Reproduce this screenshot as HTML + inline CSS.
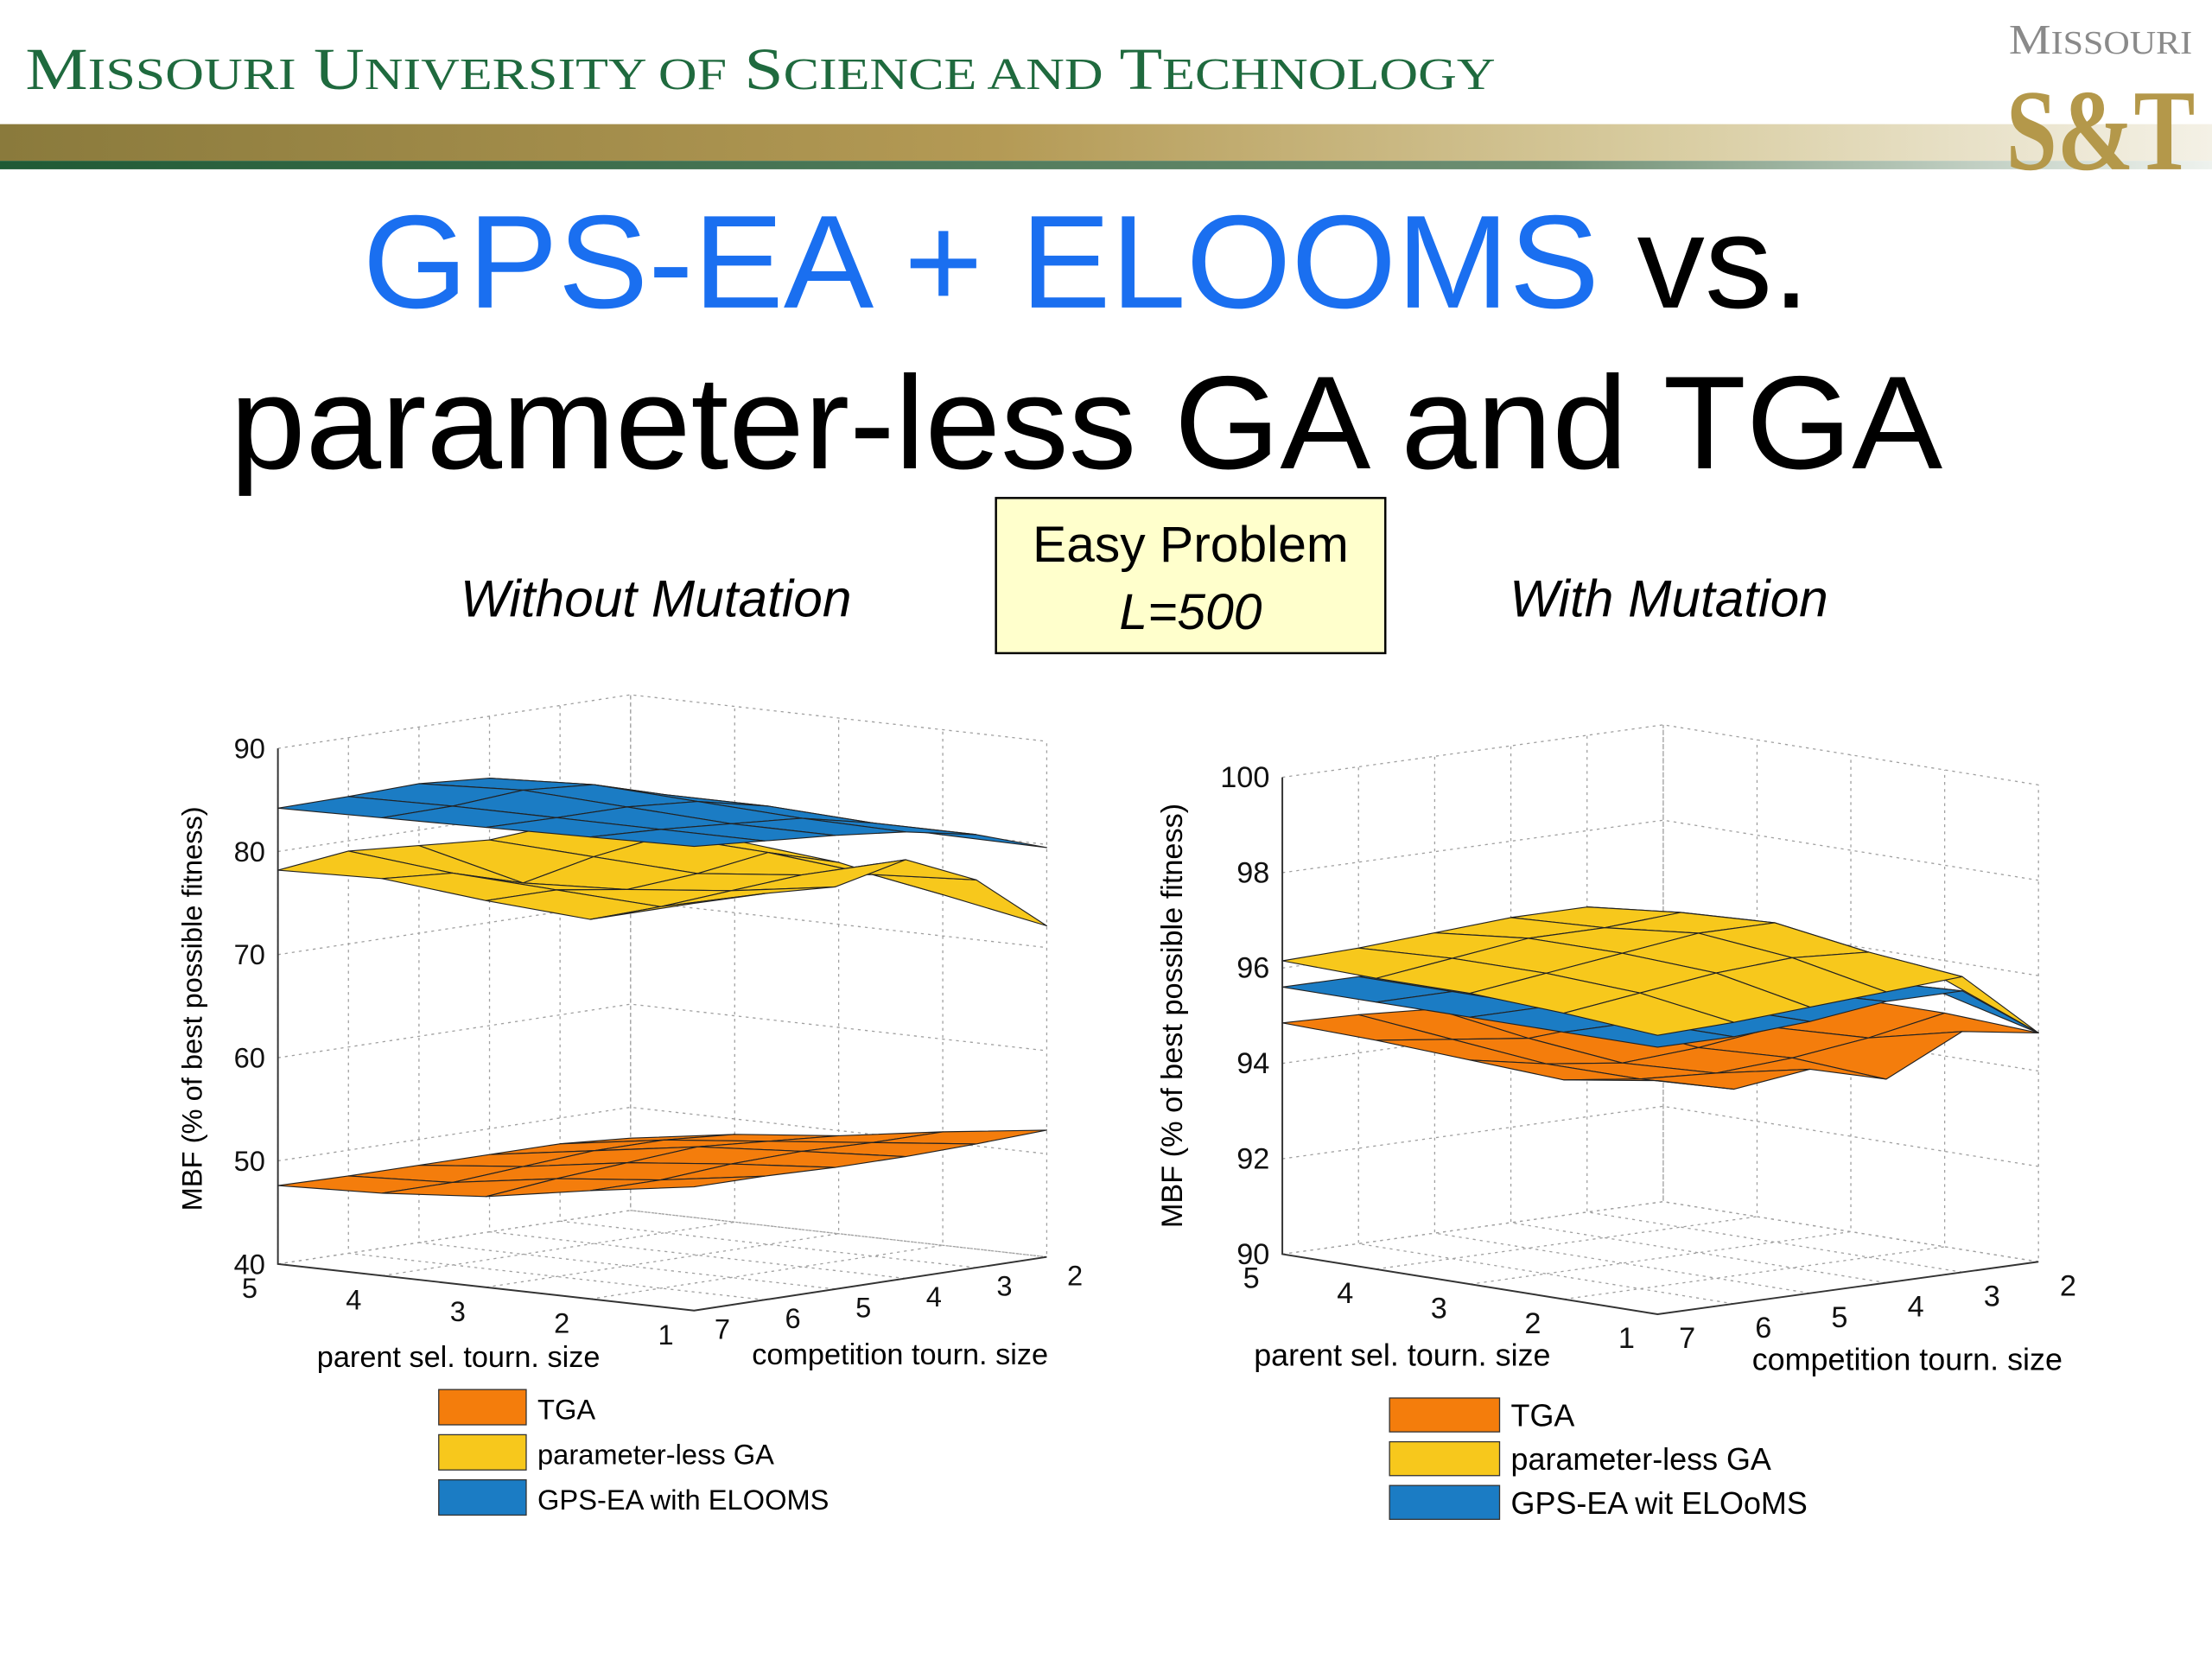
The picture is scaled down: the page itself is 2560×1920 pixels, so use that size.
<!DOCTYPE html>
<html><head><meta charset="utf-8">
<style>
html,body{margin:0;padding:0;background:#fff;}
svg{display:block;}
</style></head>
<body>
<svg id="s" width="2560" height="1920" viewBox="0 0 1568 1176" xmlns="http://www.w3.org/2000/svg" style="font-family:'Liberation Sans',sans-serif">
<defs>
<linearGradient id="bar" x1="0" x2="1" y1="0" y2="0">
<stop offset="0" stop-color="#8a7a3c"/><stop offset="0.45" stop-color="#b49a55"/><stop offset="0.75" stop-color="#d8cca0"/><stop offset="1" stop-color="#f4f1e6"/>
</linearGradient>
<linearGradient id="gline" x1="0" x2="1"><stop offset="0" stop-color="#1f5a35"/><stop offset="0.7" stop-color="#6f8f73"/><stop offset="1" stop-color="#eef2ee"/></linearGradient>
</defs>
<g>
<text x="18" y="63" style="font-family:'Liberation Serif',serif" font-size="42" fill="#1f6a3e" textLength="1042" lengthAdjust="spacingAndGlyphs">M<tspan font-size="32">ISSOURI</tspan> U<tspan font-size="32">NIVERSITY OF</tspan> S<tspan font-size="32">CIENCE AND</tspan> T<tspan font-size="32">ECHNOLOGY</tspan></text>
<rect x="0" y="88" width="1568" height="26" fill="url(#bar)"/>
<rect x="0" y="114" width="1568" height="6" fill="url(#gline)"/>
<g>
<text x="1424" y="38" style="font-family:'Liberation Serif',serif" font-size="30" fill="#8a8a8a" textLength="130" lengthAdjust="spacingAndGlyphs">M<tspan font-size="23">ISSOURI</tspan></text>
<text x="1422" y="120" style="font-family:'Liberation Serif',serif" font-weight="bold" font-size="82" fill="#b4984a" textLength="134" lengthAdjust="spacingAndGlyphs">S&amp;T</text>
</g>
</g>
<text x="257" y="218" font-size="94" textLength="1026" lengthAdjust="spacingAndGlyphs"><tspan fill="#1a6ff0">GPS-EA + ELOOMS</tspan><tspan fill="#000"> vs.</tspan></text>
<text x="163" y="332" font-size="94" fill="#000" textLength="1214" lengthAdjust="spacingAndGlyphs">parameter-less GA and TGA</text>
<g>
<rect x="706" y="353" width="276" height="110" fill="#ffffcc" stroke="#000" stroke-width="1.5"/>
<text x="844" y="398" text-anchor="middle" font-size="36">Easy Problem</text>
<text x="844" y="446" text-anchor="middle" font-size="36" font-style="italic">L=500</text>
</g>
<text x="465" y="437" text-anchor="middle" font-size="37" font-style="italic">Without Mutation</text>
<text x="1183" y="437" text-anchor="middle" font-size="37" font-style="italic">With Mutation</text>
<g id="left"></g>
<g id="right"></g>
</svg>
<script>
// rows: parent sel. tourn. size p=1..5; cols: competition tourn. size c=2..7
const parentSizes=[1,2,3,4,5];
const compSizes=[2,3,4,5,6,7];
const leftTicks=[40,50,60,70,80,90];
const rightTicks=[90,92,94,96,98,100];
const legendLabelsLeft=["TGA","parameter-less GA","GPS-EA with ELOOMS"];
const legendLabelsRight=["TGA","parameter-less GA","GPS-EA wit ELOoMS"];
const leftTGA=[[52.3,52,51.8,51.8,52,52],[51,51,51.2,51,50.5,50.5],[49.5,50,50.5,50,49.5,48.8],[48.5,49,49,48.5,48,48],[47,47.5,47.5,47.5,47.5,47.6]];
const leftPLGA=[[72.1,77.6,80.6,79,79.4,79.5],[74,77,78,77.5,77,76.8],[76,78,77,76.5,77.5,77.5],[77,78.5,77.5,76,78,78.5],[77.5,78.5,78,78.5,79,78.2]];
const leftGPS=[[79.7,82,83.3,84,84.5,85],[79.8,82,83.5,84,84.5,84.8],[80,82.5,84,84.5,84.5,84.6],[80,82.5,84.5,85,84.5,84.4],[80,82,84,84.5,84.3,84.2]];
const rightTGA=[[94.8,95.05,94.27,94.7,94.5,94.9],[94.9,94.6,94.4,94.3,94.4,94.6],[94.9,94.5,94.3,94.2,94.4,94.7],[94.9,94.6,94.5,94.4,94.6,94.8],[94.9,94.8,94.7,94.7,94.8,94.85]];
const rightPLGA=[[94.8,96.2,96.1,96.0,95.9,95.85],[95.6,96.4,96.5,96.4,96.2,96.0],[95.9,96.7,96.7,96.5,96.3,96.1],[96.0,96.6,96.5,96.5,96.3,96.1],[96.0,96.4,96.4,96.3,96.2,96.15]];
const rightGPS=[[94.8,95.9,95.9,95.7,95.6,95.6],[95.3,95.8,95.8,95.7,95.6,95.6],[95.4,95.8,95.7,95.6,95.6,95.6],[95.5,95.7,95.7,95.6,95.6,95.6],[95.5,95.7,95.6,95.6,95.6,95.6]];

const NS="http://www.w3.org/2000/svg";
function mk(parent,tag,attrs){const e=document.createElementNS(NS,tag);for(const k in attrs)e.setAttribute(k,attrs[k]);parent.appendChild(e);return e;}

function chart(g,cfg,series,colors,ticks,labels){
  const P=(p,c,z)=>[cfg.bx+(p-1)*cfg.vp[0]+(7-c)*cfg.vc[0], cfg.by+(p-1)*cfg.vp[1]+(7-c)*cfg.vc[1]-(z-cfg.z0)*cfg.kz];
  const zMin=ticks[0], zMax=ticks[ticks.length-1];
  const pts=a=>a.map(q=>q[0].toFixed(1)+','+q[1].toFixed(1)).join(' ');
  const grid=mk(g,'g',{});
  
  
  const st={stroke:'#a0a0a0','stroke-width':0.8,'stroke-dasharray':'2,3',fill:'none'};
  ticks.forEach(t=>{
    mk(grid,'polyline',Object.assign({points:pts([P(5,7,t),P(5,2,t),P(1,2,t)])},st));
  });
  parentSizes.forEach(p=>{
    mk(grid,'polyline',Object.assign({points:pts([P(p,7,zMin),P(p,2,zMin),P(p,2,zMax)])},st));
  });
  compSizes.forEach(c=>{
    mk(grid,'polyline',Object.assign({points:pts([P(1,c,zMin),P(5,c,zMin),P(5,c,zMax)])},st));
  });
  const ax=mk(g,'g',{stroke:'#333','stroke-width':1.2,fill:'none'});
  
  
  mk(ax,'polyline',{points:pts([P(5,7,zMax),P(5,7,zMin),P(1,7,zMin),P(1,2,zMin)])});
  series.forEach((data,si)=>{
    const sg=mk(g,'g',{});
    
    
    const quads=[];
    for(let i=0;i<4;i++)for(let j=0;j<5;j++)quads.push([i,j]);
    quads.sort((a,b)=>((b[0]+(5-b[1]))-(a[0]+(5-a[1]))));
    quads.forEach(([i,j])=>{
      const p1=parentSizes[i],p2=parentSizes[i+1],c1=compSizes[j],c2=compSizes[j+1];
      const poly=[P(p1,c1,data[i][j]),P(p2,c1,data[i+1][j]),P(p2,c2,data[i+1][j+1]),P(p1,c2,data[i][j+1])];
      const q=mk(sg,'polygon',{points:pts(poly),fill:colors[si],stroke:'#222','stroke-width':0.7,'stroke-linejoin':'round'});
      
      
    });
  });
  const tg=mk(g,'g',{'font-size':cfg.fs,fill:'#111'});
  
  
  ticks.forEach(t=>{const q=P(5,7,t);const e=mk(tg,'text',{x:q[0]-9,y:q[1]+7,'text-anchor':'end'});e.textContent=t;});
  parentSizes.forEach(p=>{const q=P(p,7,zMin);const e=mk(tg,'text',{x:q[0]+cfg.pox,y:q[1]+cfg.poy,'text-anchor':'middle'});e.textContent=p;});
  compSizes.forEach(c=>{const q=P(1,c,zMin);const e=mk(tg,'text',{x:q[0]+cfg.cox,y:q[1]+cfg.coy,'text-anchor':'middle'});e.textContent=c;});
  const yl=mk(g,'text',{x:0,y:0,'font-size':cfg.fs,transform:`translate(${cfg.ylx},${cfg.yly}) rotate(-90)`,'text-anchor':'middle'});
  yl.textContent='MBF (% of best possible fitness)';
  
  
  const xl=mk(g,'text',{x:cfg.xlx,y:cfg.xly,'font-size':cfg.fs+1,'text-anchor':'middle'});
  xl.textContent='parent sel. tourn. size';
  
  
  const cl=mk(g,'text',{x:cfg.clx,y:cfg.cly,'font-size':cfg.fs+1,'text-anchor':'middle'});
  cl.textContent='competition tourn. size';
  
  
  const lg=mk(g,'g',{});
  
  
  [0,1,2].forEach(k=>{
    const y=cfg.ly+k*cfg.lstep;
    const e=mk(lg,'g',{});
    
    
    mk(e,'rect',{x:cfg.lx,y:y,width:cfg.lw,height:cfg.lh,fill:cfg.legColors[k],stroke:'#333','stroke-width':0.8});
    const t=mk(e,'text',{x:cfg.lx+cfg.lw+8,y:y+cfg.lh-4,'font-size':cfg.lfs});
    t.textContent=cfg.legLabels[k];
  });
}
const OR='#f47d0c',YE='#f7c81c',BL='#1b7cc4';
chart(document.getElementById('left'),
 {bx:492,by:929,vp:[-73.75,-8.25],vc:[50,-7.6],kz:7.31,z0:40,fs:20,ylx:143,yly:715,xlx:325,xly:969,clx:638,cly:967,
  pox:-20,poy:24,cox:20,coy:20,
  lx:311,ly:985,lw:62,lh:25,lstep:32,lfs:20,legColors:[OR,YE,BL],legLabels:legendLabelsLeft},
 [leftTGA,leftPLGA,leftGPS],[OR,YE,BL],leftTicks,legendLabelsLeft);
chart(document.getElementById('right'),
 {bx:1175,by:931.6,vp:[-66.5,-10.65],vc:[54,-7.44],kz:33.8,z0:90,fs:21,ylx:838,yly:720,xlx:994,xly:968,clx:1352,cly:971,
  pox:-22,poy:24,cox:21,coy:24,
  lx:985,ly:991,lw:78,lh:24,lstep:31,lfs:22,legColors:[OR,YE,BL],legLabels:legendLabelsRight},
 [rightTGA,rightGPS,rightPLGA],[OR,BL,YE],rightTicks,["TGA","GPS-EA wit ELOoMS","parameter-less GA"]);
</script>
</body></html>
